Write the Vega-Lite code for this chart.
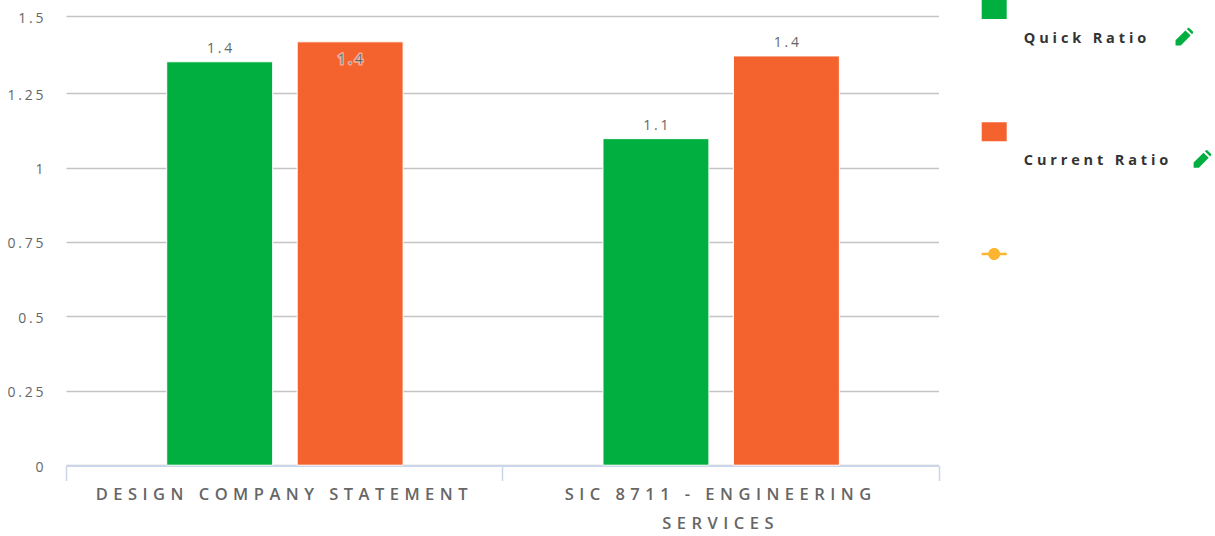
{
"$schema":"https://vega.github.io/schema/vega-lite/v6.json",
"background":"white","padding":{"left":0,"top":0,"right":0,"bottom":6},"spacing":0,
"config":{"view":{"stroke":null},"font":"Open Sans"},
"resolve":{"scale":{"color":"independent","shape":"independent"}},
"hconcat":[
{"width":872.5,"height":465.5,
"data":{"values":[
{"category":"DESIGN COMPANY STATEMENT","series":"Quick Ratio","value":1.352},
{"category":"DESIGN COMPANY STATEMENT","series":"Current Ratio","value":1.417},
{"category":"SIC 8711 - ENGINEERING SERVICES","series":"Quick Ratio","value":1.097},
{"category":"SIC 8711 - ENGINEERING SERVICES","series":"Current Ratio","value":1.371}
]},
"transform":[{"calculate":"join(split(format(datum.value,'.1f'),''),'\u200a\u200a')","as":"shown"}],
"encoding":{
"x":{"field":"category","type":"nominal","sort":null,"title":null,
 "scale":{"paddingInner":0,"paddingOuter":0},
 "axis":{"labelAngle":0,"tickBand":"extent","tickSize":15,"tickWidth":1.5,"tickColor":"#ccd6eb","domainColor":"#ccd6eb","domainWidth":2,"labelColor":"#666666","labelFontSize":16.5,"labelFontWeight":600,"labelPadding":6,"labelOffset":-3,"labelLineHeight":29,"labelLimit":600,"labelBaseline":"top","grid":false,
 "labelExpr":"datum.label=='SIC 8711 - ENGINEERING SERVICES' ? [join(split('SIC 8711 - ENGINEERING',''),'\u2009\u2009'),join(split('SERVICES',''),'\u2009\u2009')] : join(split(datum.label,''),'\u2009\u2009')"}},
"xOffset":{"field":"series","type":"nominal","sort":["Quick Ratio","Current Ratio"],"scale":{"paddingInner":0.188,"paddingOuter":0.766,"align":0.504}},
"y":{"field":"value","type":"quantitative","title":null,
 "scale":{"domain":[0,1.25,1.5],"range":[465.2,93.1,16.3],"nice":false},
 "axis":{"values":[0,0.25,0.5,0.75,1,1.25,1.5],"domain":false,"ticks":false,"minExtent":66,"maxExtent":66,"gridColor":"#c2c4c8","gridWidth":1.4,"labelColor":"#666666","labelFontSize":14,"labelPadding":23,"labelOffset":2,
 "labelExpr":"join(split(''+datum.value,''),'\u200a\u200a')"}}
},
"layer":[
{"mark":{"type":"bar","stroke":"white","strokeWidth":1},
 "encoding":{"color":{"field":"series","type":"nominal","legend":null,"scale":{"domain":["Quick Ratio","Current Ratio"],"range":["#00af3f","#f4622e"]}}}},
{"transform":[{"filter":"datum.value<1.4"}],
 "mark":{"type":"text","dy":-13,"fontSize":14,"color":"#666666"},
 "encoding":{"text":{"field":"shown"}}},
{"transform":[{"filter":"datum.value>=1.4"}],
 "mark":{"type":"text","dy":18,"fontSize":14,"color":"white","stroke":"white","strokeWidth":3,"strokeOpacity":0.45},
 "encoding":{"text":{"field":"shown"}}},
{"transform":[{"filter":"datum.value>=1.4"}],
 "mark":{"type":"text","dy":18,"fontSize":14,"color":"#666666"},
 "encoding":{"text":{"field":"shown"}}}
]},
{"width":276.5,"height":465.5,
"data":{"values":[{"series":"Quick Ratio"},{"series":"Current Ratio"},{"series":" "}]},
"transform":[
 {"calculate":"length(datum.series)","as":"chars"},
 {"calculate":"join(split(datum.series,''),'\u2009\u200a')","as":"spaced"}
],
"encoding":{
"y":{"field":"series","type":"nominal","sort":null,"axis":null,"scale":{"type":"point","range":[9.5,254],"padding":0}}
},
"layer":[
{"mark":{"type":"point","filled":true,"opacity":1,"size":625},
 "encoding":{
 "x":{"datum":-10.17,"type":"quantitative","scale":{"domain":[-16.17,14.44],"nice":false,"zero":false},"axis":null},
 "color":{"field":"series","type":"nominal","legend":null,"scale":{"domain":["Quick Ratio","Current Ratio"," "],"range":["#00af3f","#f4622e","#fdb42f"]}},
 "shape":{"field":"series","type":"nominal","legend":null,"scale":{"domain":["Quick Ratio","Current Ratio"," "],"range":["M-1,-0.76H1V0.76H-1Z","M-1,-0.76H1V0.76H-1Z","M-1,-0.1H1V0.1H-1Z M-0.48,0A0.48,0.48 0 1,1 0.48,0A0.48,0.48 0 1,1 -0.48,0Z"]}}
 }},
{"mark":{"type":"text","align":"left","baseline":"middle","dy":29.5,"fontSize":14.5,"fontWeight":"bold","color":"#333333"},
 "encoding":{
 "x":{"datum":-6.89,"type":"quantitative","scale":{"domain":[-16.17,14.44],"nice":false,"zero":false},"axis":null},
 "text":{"field":"spaced"}}},
{"transform":[{"filter":"datum.series!=' '"}],
 "mark":{"type":"point","filled":true,"opacity":1,"size":324,"color":"#00af3f","shape":"M-1.1,4.0L-1.1,3.42L0,2.32L0.58,2.9L-0.52,4.0Z M0.15,2.17L0.25,2.07Q0.35,2 0.45,2.07L0.83,2.45Q0.9,2.55 0.83,2.65L0.73,2.75Z"},
 "encoding":{
 "x":{"field":"chars","type":"quantitative","scale":{"domain":[-16.17,14.44],"nice":false,"zero":false},"axis":null}}}
]}
]}
